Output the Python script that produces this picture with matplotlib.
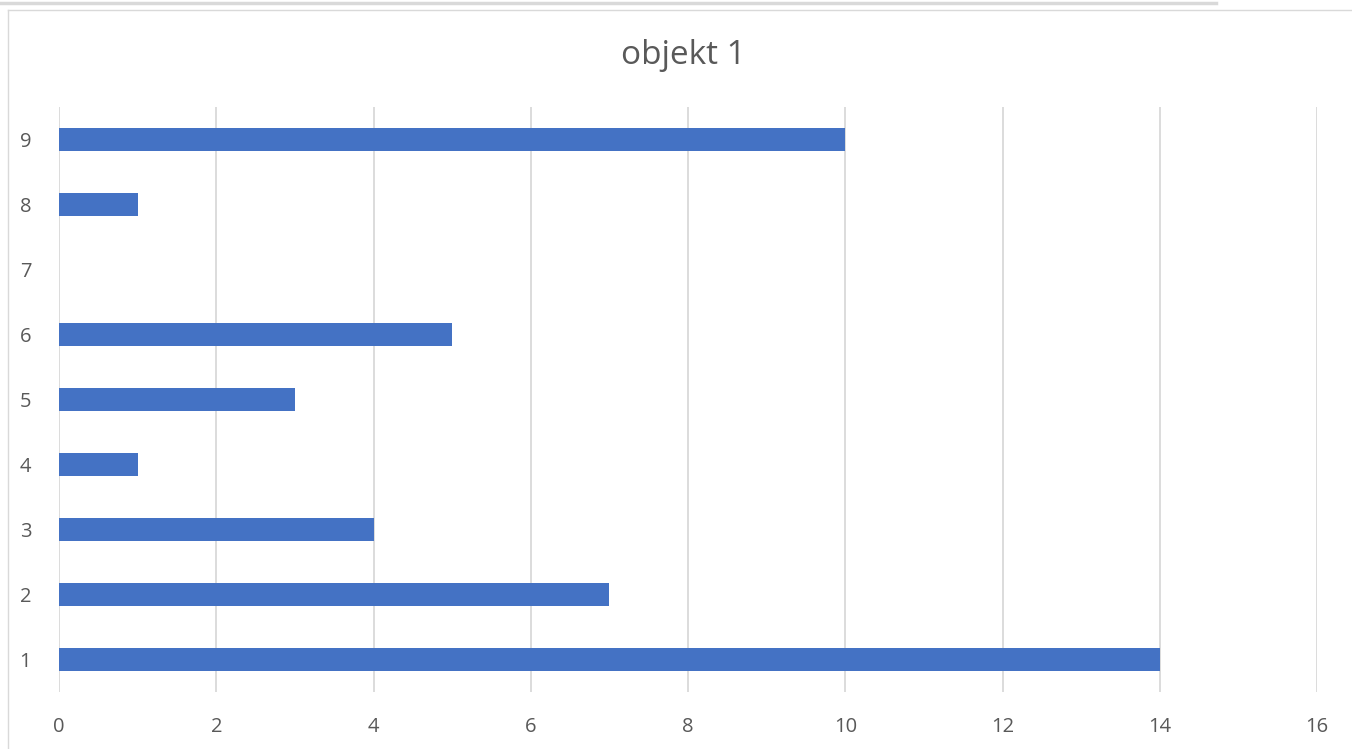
import matplotlib.pyplot as plt
from matplotlib.lines import Line2D

# Chart data
categories = ['1', '2', '3', '4', '5', '6', '7', '8', '9']
values = [14, 7, 4, 1, 3, 5, 0, 1, 10]
x_ticks = [0, 2, 4, 6, 8, 10, 12, 14, 16]

BAR_COLOR = '#4472C4'
GRID_COLOR = '#D9D9D9'
TEXT_COLOR = '#595959'

plt.rcParams['font.family'] = ['Open Sans', 'DejaVu Sans']

fig = plt.figure(figsize=(13.52, 7.49), dpi=100)
ax = fig.add_axes([59 / 1352, 1 - 692 / 749, (1317 - 59) / 1352, (692 - 107) / 749])

positions = list(range(len(categories)))
ax.barh(positions, values, height=0.34, color=BAR_COLOR, zorder=3)

ax.set_xlim(0, 16)
ax.set_ylim(-0.5, len(categories) - 0.5)
ax.set_xticks(x_ticks)
ax.set_xticklabels([str(t) for t in x_ticks])
ax.set_yticks(positions)
ax.set_yticklabels(categories)

ax.grid(axis='x', color=GRID_COLOR, linewidth=1.3, zorder=0)
ax.tick_params(axis='both', length=0, labelsize=14.5, colors=TEXT_COLOR)
ax.tick_params(axis='x', pad=18)
ax.tick_params(axis='y', pad=20)
for side in ax.spines:
    ax.spines[side].set_visible(False)

fig.text(683 / 1352, 1 - 55 / 749, 'objekt 1', ha='center', va='center',
         fontsize=24, color=TEXT_COLOR)

# Outer frame lines
fig.add_artist(Line2D([0, 1216 / 1352], [1 - 3 / 749, 1 - 3 / 749],
                      transform=fig.transFigure, color='#D9D9D9', linewidth=2.5))
fig.add_artist(Line2D([8 / 1352, 1], [1 - 10 / 749, 1 - 10 / 749],
                      transform=fig.transFigure, color='#D9D9D9', linewidth=1))
fig.add_artist(Line2D([8 / 1352, 8 / 1352], [0, 1 - 10 / 749],
                      transform=fig.transFigure, color='#D9D9D9', linewidth=1))

fig.savefig('out.png', dpi=100)
